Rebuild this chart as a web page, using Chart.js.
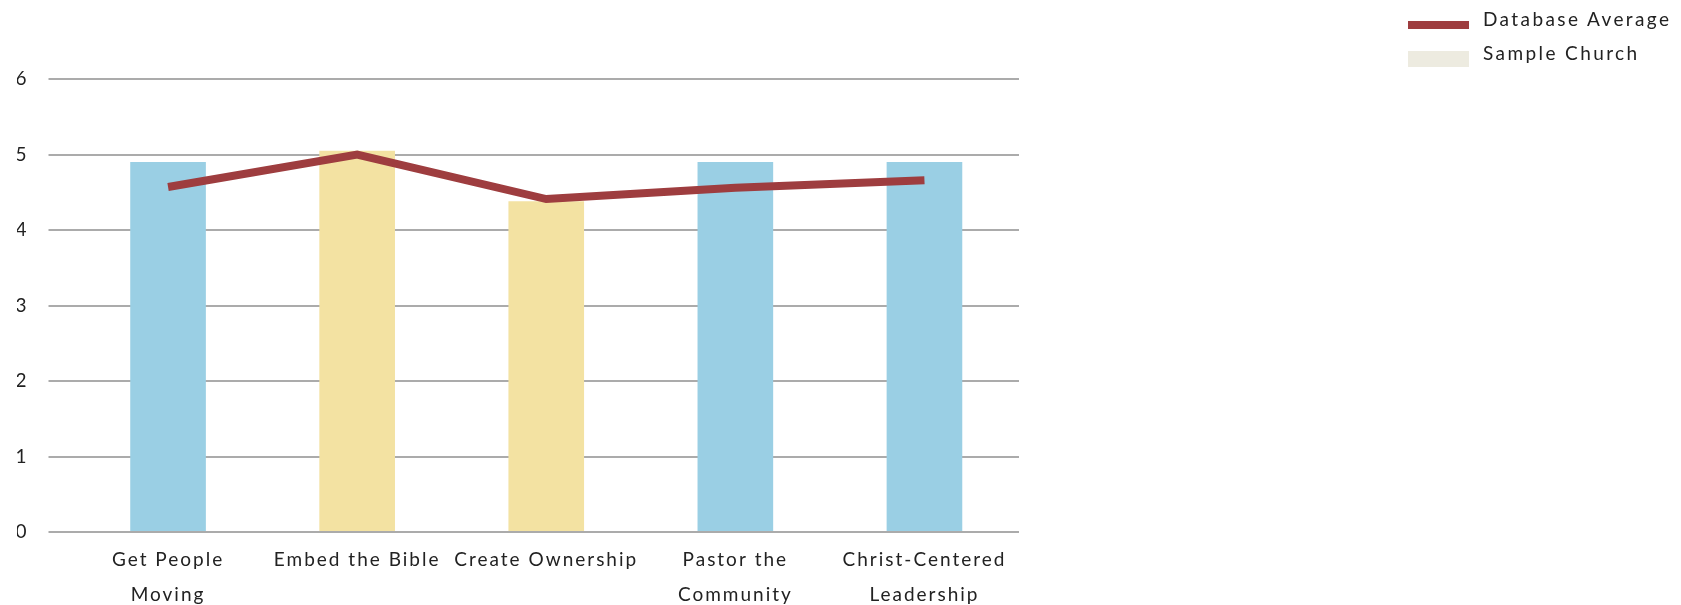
<!DOCTYPE html>
<html>
<head>
<meta charset="utf-8">
<script src="https://cdn.jsdelivr.net/npm/chart.js@4"></script>
<style>
  html, body { margin: 0; padding: 0; background: #fff; }
  #wrap { position: relative; width: 1681px; height: 605px; }
  canvas { display: block; }
  #legende { position: absolute; left: 1408px; top: 0; font-family: Lato, sans-serif; font-size: 19px; letter-spacing: 2.4px; color: #222; }
  .item { position: absolute; left: 0; white-space: nowrap; }
  .swatch { position: absolute; left: 0; width: 61px; }
  .txt { position: absolute; left: 75px; line-height: 20px; }
</style>
</head>
<body>
<div id="wrap">
  <canvas id="chartEglise" width="1681" height="605"></canvas>
  <div id="legende"></div>
</div>
<script>
// === Données ===
const categories = [["Get People", "Moving"], "Embed the Bible", "Create Ownership", ["Pastor the", "Community"], ["Christ-Centered", "Leadership"]];
const sampleChurch = [4.9, 5.05, 4.38, 4.9, 4.9];
const databaseAverage = [4.57, 5.0, 4.41, 4.56, 4.66];
const yMin = 0, yMax = 6, yStep = 1;

// couleurs
const bleu = "#9acfe4";
const jaune = "#f3e2a2";
const rouge = "#9e3d3f";
const beige = "#edebe0";
const grille = "#ababab";

// espacement des lettres sur le canvas
const espacement = {
  id: "espacement",
  beforeLayout(chart) { chart.ctx.letterSpacing = "2px"; },
  beforeDraw(chart) { chart.ctx.letterSpacing = "2px"; }
};

const ctx = document.getElementById("chartEglise").getContext("2d");
const chart = new Chart(ctx, {
  type: "bar",
  data: {
    labels: categories,
    datasets: [
      {
        type: "line",
        label: "Database Average",
        data: databaseAverage,
        borderColor: rouge,
        backgroundColor: rouge,
        borderWidth: 8,
        pointRadius: 0,
        borderCapStyle: "butt",
        borderJoinStyle: "miter",
        tension: 0,
        order: 0
      },
      {
        label: "Sample Church",
        data: sampleChurch,
        backgroundColor: [bleu, jaune, jaune, bleu, bleu],
        legendColor: beige,
        categoryPercentage: 1,
        barPercentage: 0.4,
        order: 1
      }
    ]
  },
  options: {
    responsive: false,
    animation: false,
    layout: { padding: { top: 79, left: 17, right: 662, bottom: 0 } },
    plugins: { legend: { display: false }, tooltip: { enabled: false } },
    scales: {
      x: {
        grid: { display: false, drawTicks: false },
        border: { display: false },
        ticks: {
          color: "#222",
          padding: 10,
          maxRotation: 0,
          autoSkip: false,
          font: { family: "Lato", size: 19, lineHeight: 35 / 19 }
        },
        afterFit(s) { s.height = 73; }
      },
      y: {
        min: yMin,
        max: yMax,
        border: { display: false },
        grid: { color: grille, lineWidth: 2, tickLength: 25 },
        ticks: {
          stepSize: yStep,
          color: "#222",
          padding: 20,
          font: { family: "Lato", size: 19 }
        },
        afterFit(s) { s.width = 56.5; }
      }
    }
  },
  plugins: [espacement]
});

// === Légende ===
const legende = document.getElementById("legende");
const positions = [{ top: 9, swTop: 21, swH: 8 }, { top: 43, swTop: 51, swH: 16 }];
chart.data.datasets.forEach((d, i) => {
  const p = positions[i];
  const couleur = d.legendColor || d.borderColor;
  legende.innerHTML += `
    <div class="item" style="top:0">
      <div class="swatch" style="top:${p.swTop}px;height:${p.swH}px;background:${couleur}"></div>
      <div class="txt" style="top:${p.top}px">${d.label}</div>
    </div>`;
});
</script>
</body>
</html>
